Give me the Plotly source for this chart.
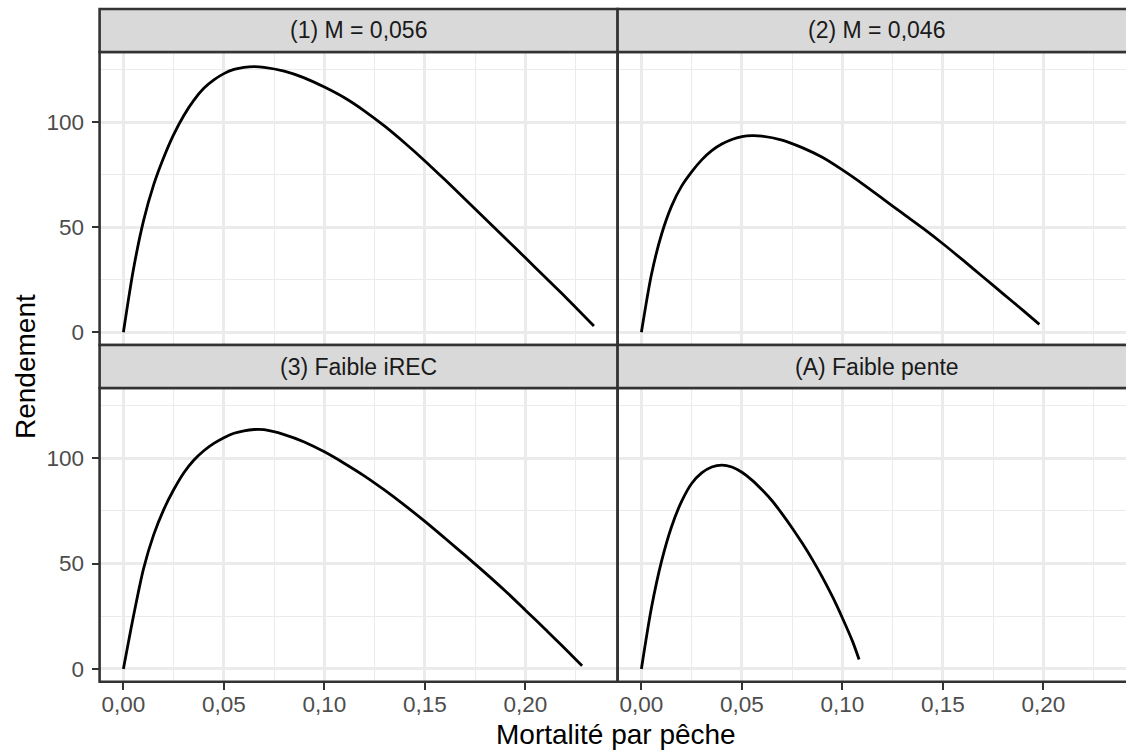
import plotly.graph_objects as go

# ---- data ----
panel_titles = ["(1) M = 0,056", "(2) M = 0,046", "(3) Faible iREC", "(A) Faible pente"]

f_1 = [0, 0.005, 0.01, 0.015, 0.02, 0.025, 0.03, 0.035, 0.04, 0.045, 0.05, 0.055, 0.06, 0.065,
       0.07, 0.08, 0.09, 0.10, 0.11, 0.12, 0.13, 0.14, 0.15, 0.16, 0.17, 0.18, 0.19, 0.20,
       0.21, 0.22, 0.2341]
y_1 = [0, 30, 53, 70, 83, 94, 103, 110.3, 116, 120, 123, 125, 126, 126.3,
       126, 124.2, 121, 116.6, 111.5, 105.2, 98, 90, 81.5, 72.5, 63.3, 54, 44.7, 35.4,
       26, 16.7, 3]

f_2 = [0, 0.005, 0.01, 0.015, 0.02, 0.025, 0.03, 0.035, 0.04, 0.045, 0.05, 0.055, 0.06,
       0.07, 0.08, 0.09, 0.10, 0.11, 0.12, 0.13, 0.14, 0.15, 0.16, 0.17, 0.18, 0.19, 0.198]
y_2 = [0, 27.5, 46.5, 60, 69.5, 76.3, 82, 86.4, 89.5, 91.7, 93, 93.5, 93.3,
       91.4, 87.8, 83.2, 77.2, 70.6, 63.6, 56.5, 49.5, 42.1, 34.3, 26.3, 18.3, 10.3, 3.8]

f_3 = [0, 0.005, 0.01, 0.015, 0.02, 0.025, 0.03, 0.035, 0.04, 0.045, 0.05, 0.055, 0.06, 0.065,
       0.07, 0.08, 0.09, 0.10, 0.11, 0.12, 0.13, 0.14, 0.15, 0.16, 0.17, 0.18, 0.19, 0.20,
       0.21, 0.22, 0.2282]
y_3 = [0, 25, 47.5, 63.5, 75.5, 85, 93, 99, 103.5, 107, 109.7, 111.8, 113, 113.6,
       113.5, 111.2, 107.7, 103, 97.5, 91.5, 84.8, 77.6, 70, 62.0, 53.9, 45.6, 37.0, 27.9,
       18.7, 9.4, 1.5]

f_4 = [0, 0.005, 0.01, 0.015, 0.02, 0.025, 0.03, 0.035, 0.04, 0.045, 0.05, 0.055, 0.06,
       0.065, 0.07, 0.075, 0.08, 0.085, 0.09, 0.095, 0.10, 0.105, 0.1083]
y_4 = [0, 29, 51, 67.5, 79.5, 88, 93, 95.8, 96.7, 95.8, 93.3, 89.6, 85.0,
       79.8, 73.6, 66.9, 59.7, 52, 43.6, 34.4, 24.2, 13.2, 4.5]

x_ticks = [0, 0.05, 0.10, 0.15, 0.20]
y_ticks = [0, 50, 100]
x_title = "Mortalité par pêche"
y_title = "Rendement"

# ---- geometry (pixels) ----
W, H = 1126, 750
FONT = "Liberation Sans, Arial, Helvetica, sans-serif"
L1, R1 = 99.6, 617.6          # left column panels
L2, R2 = 617.6, 1135.6        # right column panels (clipped by figure edge)
TOP_STRIP = (9, 52)
TOP_PANEL = (52, 345)
BOT_STRIP = (345, 388)
BOT_PANEL = (388, 681.7)
PX_PER_X = 2010.0
X0_OFF = 23.8                 # pixel offset of x=0 from panel left
Y0_OFF_TOP = 332.3            # pixel of y=0 in top panel
PX_PER_Y = 2.103

def px(v):
    return v / W

def py(v):
    return 1 - v / H

xr_left = [-X0_OFF / PX_PER_X, (R1 - L1 - X0_OFF) / PX_PER_X]
xr_right = [-X0_OFF / PX_PER_X, (W - L2 - X0_OFF) / PX_PER_X]
yr = [-(TOP_PANEL[1] - Y0_OFF_TOP) / PX_PER_Y, (Y0_OFF_TOP - TOP_PANEL[0]) / PX_PER_Y]

fig = go.Figure()
LINE = dict(color="black", width=2.8, shape="spline", smoothing=0.8)
# bottom-left: panel 3 ; bottom-right: panel 4 ; top-left: panel 1 ; top-right: panel 2
fig.add_trace(go.Scatter(x=f_3, y=y_3, mode="lines", line=LINE, xaxis="x", yaxis="y", showlegend=False))
fig.add_trace(go.Scatter(x=f_4, y=y_4, mode="lines", line=LINE, xaxis="x2", yaxis="y2", showlegend=False))
fig.add_trace(go.Scatter(x=f_1, y=y_1, mode="lines", line=LINE, xaxis="x3", yaxis="y3", showlegend=False))
fig.add_trace(go.Scatter(x=f_2, y=y_2, mode="lines", line=LINE, xaxis="x4", yaxis="y4", showlegend=False))

GRID = "#EBEBEB"
tickfont = dict(family=FONT, size=22.5, color="#4D4D4D")

def xaxis(dom, rng, anchor, labels):
    return dict(domain=dom, range=rng, anchor=anchor, tickvals=x_ticks, tickformat=".2f",
                showgrid=True, gridcolor=GRID, gridwidth=2.6, zeroline=False, showline=False,
                minor=dict(dtick=0.025, tick0=0, showgrid=True, gridcolor=GRID, gridwidth=1.3),
                ticks="outside" if labels else "", ticklen=7, tickwidth=2.4, tickcolor="#333333",
                showticklabels=labels, tickfont=tickfont, fixedrange=True,
                ticklabelstandoff=-5)

def yaxis(dom, anchor, labels):
    return dict(domain=dom, range=yr, anchor=anchor, tickvals=y_ticks,
                showgrid=True, gridcolor=GRID, gridwidth=2.6, zeroline=False, showline=False,
                minor=dict(dtick=25, tick0=0, showgrid=True, gridcolor=GRID, gridwidth=1.3),
                ticks="outside" if labels else "", ticklen=7, tickwidth=2.4, tickcolor="#333333",
                showticklabels=labels, tickfont=tickfont, fixedrange=True,
                ticklabelstandoff=3)

dx_left = [px(L1), px(R1)]
dx_right = [px(L2), 1.0]
dy_top = [py(TOP_PANEL[1]), py(TOP_PANEL[0])]
dy_bot = [py(BOT_PANEL[1]), py(BOT_PANEL[0])]

shapes = []
BORDER = "#333333"
for (l, r) in [(L1, R1), (L2, R2)]:
    for (t, b) in [TOP_PANEL, BOT_PANEL]:
        shapes.append(dict(type="rect", xref="paper", yref="paper", x0=px(l), x1=px(r),
                           y0=py(b), y1=py(t), line=dict(color=BORDER, width=2.6),
                           fillcolor="rgba(0,0,0,0)", layer="above"))
    for (t, b) in [TOP_STRIP, BOT_STRIP]:
        shapes.append(dict(type="rect", xref="paper", yref="paper", x0=px(l), x1=px(r),
                           y0=py(b), y1=py(t), line=dict(color=BORDER, width=2.6),
                           fillcolor="#D9D9D9", layer="above"))

annotations = []
strip_pos = [((L1 + R1) / 2, TOP_STRIP), ((L2 + R2) / 2, TOP_STRIP),
             ((L1 + R1) / 2, BOT_STRIP), ((L2 + R2) / 2, BOT_STRIP)]
for title, (cx, (t, b)) in zip(panel_titles, strip_pos):
    annotations.append(dict(text=title, xref="paper", yref="paper", x=px(cx), y=py((t + b) / 2),
                            xanchor="center", yanchor="middle", showarrow=False,
                            font=dict(family=FONT, size=23, color="#1A1A1A")))
annotations.append(dict(text=x_title, xref="paper", yref="paper", x=px(616), y=py(734),
                        xanchor="center", yanchor="middle", showarrow=False,
                        font=dict(family=FONT, size=28, color="black")))
annotations.append(dict(text=y_title, xref="paper", yref="paper", x=px(25), y=py(367),
                        xanchor="center", yanchor="middle", showarrow=False, textangle=-90,
                        font=dict(family=FONT, size=28, color="black")))

fig.update_layout(
    width=W, height=H, autosize=False,
    margin=dict(l=0, r=0, t=0, b=0),
    paper_bgcolor="white", plot_bgcolor="white",
    separators=",.",
    font=dict(family=FONT),
    xaxis=xaxis(dx_left, xr_left, "y", True),
    xaxis2=xaxis(dx_right, xr_right, "y2", True),
    xaxis3=xaxis(dx_left, xr_left, "y3", False),
    xaxis4=xaxis(dx_right, xr_right, "y4", False),
    yaxis=yaxis(dy_bot, "x", True),
    yaxis2=yaxis(dy_bot, "x2", False),
    yaxis3=yaxis(dy_top, "x3", True),
    yaxis4=yaxis(dy_top, "x4", False),
    shapes=shapes,
    annotations=annotations,
)

fig.write_html("out.html", config=dict(displayModeBar=False))
